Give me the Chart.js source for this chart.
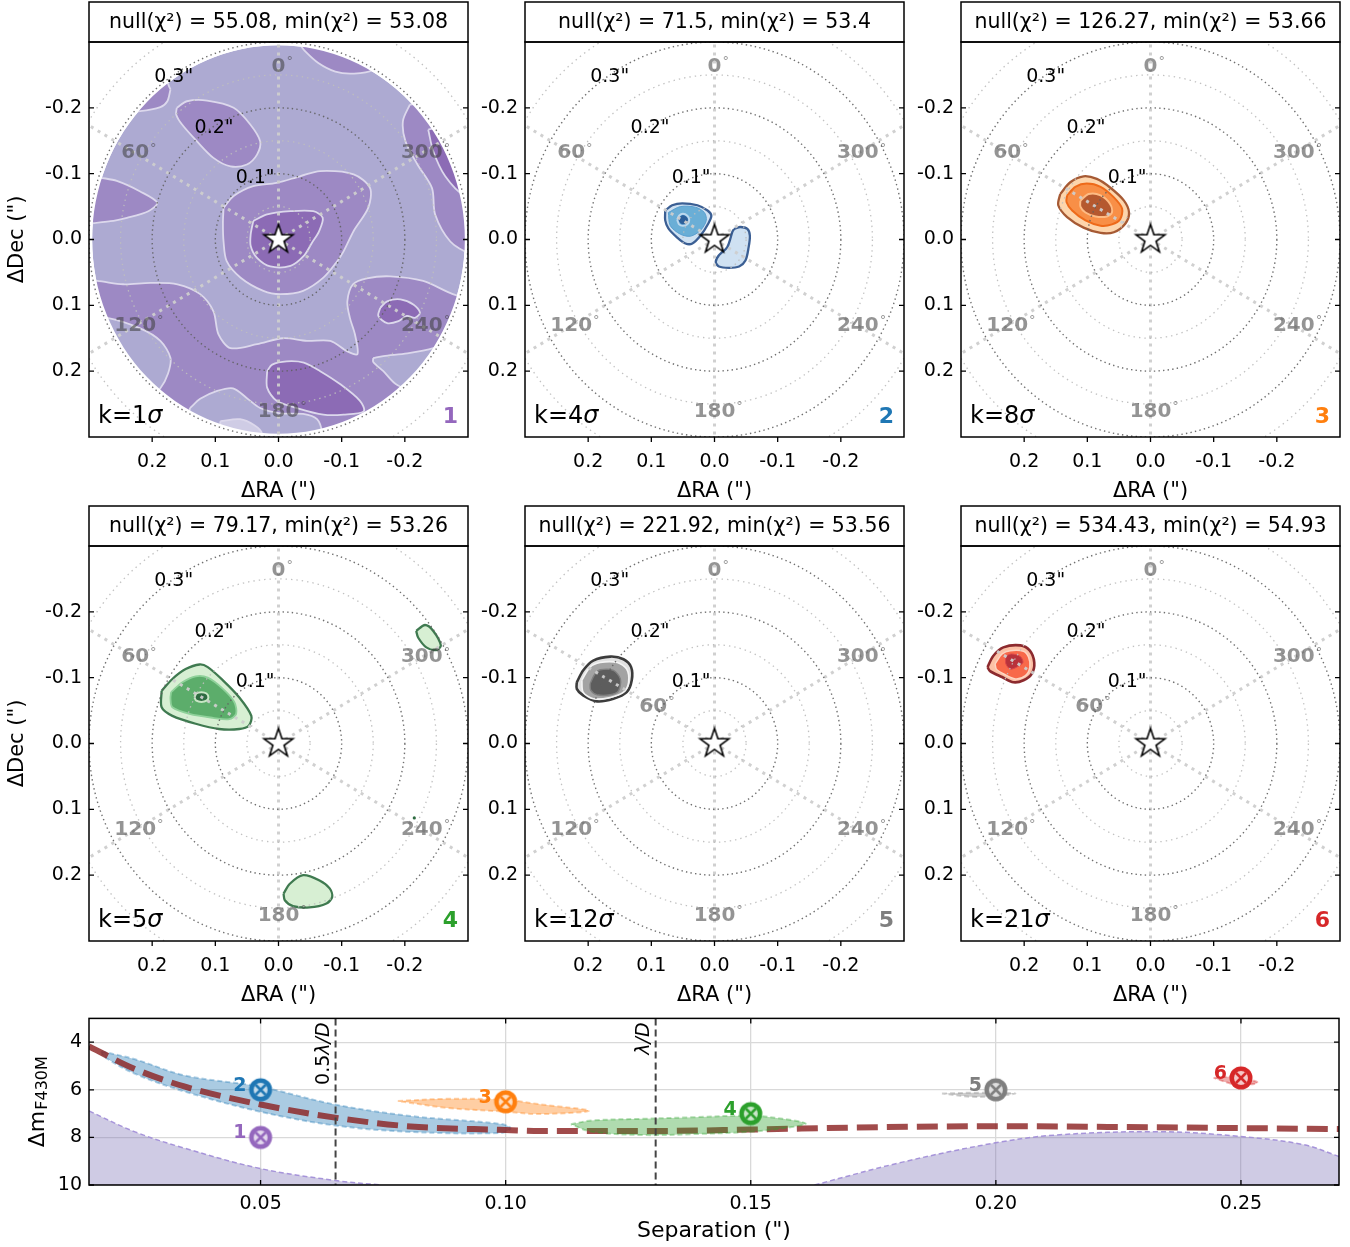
<!DOCTYPE html>
<html>
<head>
<meta charset="utf-8">
<script src="https://cdn.jsdelivr.net/npm/chart.js@4.4.1/dist/chart.umd.min.js"></script>
<style>
  body { margin: 0; background: #fff; }
  #wrap { position: relative; width: 1350px; height: 1247px; overflow: hidden; }
  #wrap canvas { position: absolute; }
</style>
</head>
<body>
<div id="wrap"></div>
<script>
// ---------- map panels ----------
const panelNull = [55.08, 71.5, 126.27, 79.17, 221.92, 534.43];
const panelMin = [53.08, 53.4, 53.66, 53.26, 53.56, 54.93];
const panelK = [1, 4, 8, 5, 12, 21];
const panelColors = ['#9467bd', '#1f77b4', '#ff7f0e', '#2ca02c', '#7f7f7f', '#d62728'];

const raTicks = [0.2, 0.1, 0.0, -0.1, -0.2];
const decTicks = [-0.2, -0.1, 0.0, 0.1, 0.2];
const sepRings = [0.1, 0.2, 0.3];
const minorRings = [0.05, 0.15, 0.25, 0.35];
const spokeAngles = [0, 60, 120, 180, 240, 300];
const ringLabelPos = [[0.037, -0.094], [0.102, -0.170], [0.166, -0.246]]; // (RA, Dec) of 0.1", 0.2", 0.3"
const fovRadius = 0.295;

// contour outlines, [RA, Dec] in arcsec
// panel 1 (k=1 sigma)
const p1NorthEast = [[-0.034,-0.296],[-0.042,-0.286],[-0.063,-0.268],[-0.090,-0.255],[-0.117,-0.252],[-0.148,-0.257],[-0.169,-0.286],[-0.169,-0.33],[-0.034,-0.33]];
const p1NorthWest = [[0.161,-0.200],[0.145,-0.210],[0.113,-0.211],[0.071,-0.200],[0.045,-0.175],[0.029,-0.149],[0.034,-0.129],[0.050,-0.114],[0.076,-0.111],[0.103,-0.124],[0.129,-0.149],[0.153,-0.175],[0.162,-0.190]];
const p1EdgeNW = [[0.171,-0.228],[0.176,-0.210],[0.187,-0.201],[0.219,-0.195],[0.250,-0.195],[0.250,-0.240],[0.187,-0.255]];
const p1West = [[0.282,-0.094],[0.256,-0.089],[0.219,-0.073],[0.192,-0.056],[0.206,-0.043],[0.240,-0.033],[0.266,-0.028],[0.314,-0.028],[0.314,-0.094]];
const p1East = [[-0.208,-0.205],[-0.197,-0.180],[-0.201,-0.149],[-0.220,-0.114],[-0.243,-0.078],[-0.248,-0.038],[-0.272,0.003],[-0.303,0.021],[-0.335,0.021],[-0.335,-0.21]];
const p1EastEdge = [[-0.237,-0.167],[-0.245,-0.134],[-0.264,-0.096],[-0.295,-0.066],[-0.319,-0.066],[-0.319,-0.180]];
const p1Center = [[0.087,-0.048],[0.071,-0.066],[0.040,-0.081],[0.003,-0.086],[-0.034,-0.096],[-0.066,-0.104],[-0.119,-0.099],[-0.145,-0.078],[-0.142,-0.048],[-0.119,-0.013],[-0.103,0.018],[-0.093,0.033],[-0.071,0.058],[-0.039,0.078],[-0.003,0.083],[0.024,0.078],[0.060,0.058],[0.082,0.033],[0.087,0.003],[0.088,-0.025]];
const p1Core = [[0.040,-0.028],[0.018,-0.038],[-0.019,-0.043],[-0.055,-0.043],[-0.070,-0.033],[-0.064,-0.012],[-0.053,0.005],[-0.040,0.025],[-0.019,0.040],[0.013,0.041],[0.034,0.028],[0.044,0.010],[0.044,-0.008]];
const p1South = [[0.314,0.063],[0.287,0.063],[0.246,0.068],[0.203,0.066],[0.160,0.068],[0.124,0.083],[0.103,0.109],[0.095,0.144],[0.076,0.165],[0.034,0.159],[-0.007,0.150],[-0.045,0.154],[-0.082,0.154],[-0.109,0.170],[-0.125,0.174],[-0.121,0.144],[-0.113,0.119],[-0.109,0.094],[-0.118,0.068],[-0.140,0.059],[-0.177,0.056],[-0.229,0.063],[-0.276,0.083],[-0.319,0.094],[-0.335,0.094],[-0.335,0.336],[0.314,0.336]];
const p1SouthWestLow = [[0.314,0.118],[0.271,0.119],[0.219,0.135],[0.187,0.154],[0.171,0.180],[0.175,0.204],[0.187,0.226],[0.203,0.238],[0.314,0.238]];
const p1SouthEastLow = [[-0.150,0.180],[-0.166,0.177],[-0.204,0.173],[-0.245,0.165],[-0.267,0.154],[-0.280,0.144],[-0.319,0.124],[-0.319,0.276],[-0.188,0.221],[-0.166,0.200],[-0.150,0.186]];
const p1BottomLow = [[0.140,0.256],[0.124,0.242],[0.097,0.230],[0.072,0.226],[0.050,0.241],[0.029,0.256],[-0.003,0.264],[-0.039,0.265],[-0.061,0.273],[-0.069,0.294],[-0.069,0.336],[0.156,0.336]];
const p1SouthPeak = [[0.018,0.200],[0.010,0.190],[-0.013,0.185],[-0.040,0.187],[-0.066,0.200],[-0.098,0.220],[-0.129,0.245],[-0.135,0.261],[-0.103,0.266],[-0.071,0.266],[-0.029,0.256],[0.003,0.245],[0.018,0.225]];
const p1EastPeak = [[-0.161,0.104],[-0.172,0.094],[-0.193,0.091],[-0.214,0.099],[-0.224,0.111],[-0.216,0.119],[-0.203,0.116],[-0.190,0.124],[-0.172,0.127],[-0.158,0.116]];
const p1BottomMin = [[0.092,0.276],[0.061,0.273],[0.037,0.283],[0.026,0.295],[0.026,0.321],[0.092,0.321]];

// panel 2 (k=4 sigma)
const p2Main = [[0.078,-0.044],[0.067,-0.052],[0.051,-0.055],[0.027,-0.052],[0.011,-0.044],[0.005,-0.036],[0.010,-0.024],[0.022,-0.006],[0.035,0.006],[0.046,0.006],[0.059,-0.003],[0.073,-0.017],[0.078,-0.029]];
const p2Mid = [[0.073,-0.041],[0.054,-0.050],[0.030,-0.049],[0.016,-0.041],[0.013,-0.029],[0.022,-0.014],[0.038,-0.005],[0.054,-0.008],[0.070,-0.021]];
const p2Ring = [[0.059,-0.030],[0.056,-0.036],[0.050,-0.039],[0.043,-0.036],[0.040,-0.030],[0.043,-0.023],[0.050,-0.021],[0.056,-0.023]];
const p2Peak = [[0.056,-0.030],[0.054,-0.034],[0.050,-0.036],[0.045,-0.034],[0.043,-0.030],[0.045,-0.026],[0.050,-0.024],[0.054,-0.026]];
const p2Second = [[-0.031,-0.016],[-0.041,-0.019],[-0.052,-0.016],[-0.056,-0.006],[-0.054,0.012],[-0.049,0.032],[-0.039,0.041],[-0.023,0.043],[-0.007,0.041],[-0.002,0.034],[-0.007,0.024],[-0.020,0.012],[-0.025,-0.001],[-0.028,-0.011]];

// panel 3 (k=8 sigma)
const p3Main = [[0.143,-0.069],[0.127,-0.087],[0.106,-0.096],[0.085,-0.092],[0.064,-0.079],[0.042,-0.059],[0.034,-0.041],[0.040,-0.024],[0.058,-0.011],[0.079,-0.010],[0.106,-0.018],[0.132,-0.034],[0.146,-0.052]];
const p3Mid = [[0.132,-0.067],[0.119,-0.080],[0.101,-0.085],[0.079,-0.080],[0.058,-0.064],[0.045,-0.047],[0.048,-0.031],[0.061,-0.023],[0.079,-0.021],[0.103,-0.029],[0.124,-0.044],[0.133,-0.057]];
const p3Peak = [[0.111,-0.059],[0.098,-0.069],[0.079,-0.067],[0.064,-0.054],[0.061,-0.041],[0.069,-0.035],[0.087,-0.035],[0.103,-0.041],[0.111,-0.050]];

// panel 4 (k=5 sigma)
const p4Main = [[0.185,-0.080],[0.168,-0.098],[0.147,-0.113],[0.125,-0.120],[0.112,-0.116],[0.088,-0.096],[0.062,-0.070],[0.043,-0.042],[0.047,-0.027],[0.062,-0.022],[0.094,-0.022],[0.131,-0.030],[0.168,-0.042],[0.185,-0.055]];
const p4Mid = [[0.170,-0.078],[0.152,-0.093],[0.131,-0.102],[0.112,-0.100],[0.088,-0.083],[0.070,-0.063],[0.067,-0.045],[0.078,-0.037],[0.104,-0.039],[0.141,-0.045],[0.168,-0.055],[0.171,-0.068]];
const p4Peak = [[0.133,-0.070],[0.130,-0.076],[0.122,-0.078],[0.114,-0.076],[0.111,-0.070],[0.114,-0.065],[0.122,-0.063],[0.130,-0.065]];
const p4Upper = [[-0.218,-0.171],[-0.232,-0.180],[-0.245,-0.171],[-0.257,-0.149],[-0.250,-0.142],[-0.234,-0.146],[-0.221,-0.161]];
const p4Lower = [[-0.008,0.228],[-0.018,0.213],[-0.039,0.200],[-0.065,0.208],[-0.081,0.220],[-0.085,0.233],[-0.076,0.243],[-0.049,0.249],[-0.023,0.247],[-0.010,0.238]];
const p4Speck = [[-0.215, 0.113]];

// panel 5 (k=12 sigma)
const p5Main = [[0.218,-0.093],[0.208,-0.111],[0.192,-0.126],[0.165,-0.132],[0.144,-0.128],[0.132,-0.116],[0.131,-0.096],[0.139,-0.078],[0.160,-0.068],[0.186,-0.064],[0.208,-0.073],[0.218,-0.083]];
const p5Mid = [[0.210,-0.096],[0.197,-0.116],[0.181,-0.123],[0.154,-0.123],[0.139,-0.113],[0.136,-0.093],[0.144,-0.078],[0.165,-0.070],[0.192,-0.068],[0.208,-0.078]];
const p5Peak = [[0.197,-0.091],[0.189,-0.106],[0.181,-0.112],[0.160,-0.111],[0.149,-0.098],[0.152,-0.080],[0.165,-0.074],[0.186,-0.074],[0.196,-0.081]];

// panel 6 (k=21 sigma)
const p6Main = [[0.258,-0.116],[0.249,-0.133],[0.233,-0.146],[0.206,-0.149],[0.191,-0.141],[0.184,-0.123],[0.188,-0.106],[0.201,-0.096],[0.217,-0.093],[0.235,-0.101],[0.254,-0.110]];
const p6Mid = [[0.246,-0.121],[0.235,-0.136],[0.222,-0.141],[0.201,-0.140],[0.193,-0.131],[0.191,-0.116],[0.198,-0.103],[0.214,-0.098],[0.233,-0.106],[0.244,-0.113]];
const p6Peak = [[0.229,-0.133],[0.220,-0.136],[0.206,-0.132],[0.202,-0.123],[0.212,-0.116],[0.222,-0.113],[0.229,-0.121]];

// ---------- contrast panel ----------
const sepTicks = [0.05, 0.10, 0.15, 0.20, 0.25];
const dmTicks = [4, 6, 8, 10];
const halfLambdaD = 0.0653;
const lambdaD = 0.1306;

const contrastSep = [0.015, 0.0244, 0.0346, 0.05, 0.0652, 0.0806, 0.0988, 0.107, 0.1306, 0.15, 0.1702, 0.1996, 0.2228, 0.25, 0.27];
const contrastDm = [4.18, 5.13, 5.87, 6.62, 7.17, 7.54, 7.68, 7.73, 7.73, 7.67, 7.59, 7.53, 7.56, 7.61, 7.65];

const purpleLeftSep = [0.015, 0.0244, 0.0346, 0.05, 0.0652, 0.0745];
const purpleLeftDm = [6.89, 7.77, 8.46, 9.31, 9.81, 10.0];
const purpleRightSep = [0.163, 0.1807, 0.1996, 0.2122, 0.2334, 0.25, 0.2627, 0.27];
const purpleRightDm = [10.0, 9.05, 8.24, 7.90, 7.76, 7.96, 8.30, 8.80];

const blueUpSep = [0.0175, 0.0244, 0.0346, 0.0499, 0.0652, 0.0806, 0.0992, 0.101];
const blueUpDm = [4.38, 4.72, 5.40, 5.87, 6.62, 7.10, 7.44, 7.62];
const blueLoSep = [0.0179, 0.0244, 0.0346, 0.0499, 0.0652, 0.0806, 0.0992];
const blueLoDm = [4.58, 5.33, 6.08, 6.92, 7.50, 7.77, 7.81];

const orangeUpSep = [0.078, 0.088, 0.10, 0.107, 0.117];
const orangeUpDm = [6.47, 6.38, 6.42, 6.61, 6.88];
const orangeLoSep = [0.088, 0.10, 0.107];
const orangeLoDm = [6.76, 6.92, 7.02];

const greenUpSep = [0.1133, 0.1175, 0.128, 0.1386, 0.15, 0.1565, 0.1612];
const greenUpDm = [7.45, 7.29, 7.22, 7.15, 7.09, 7.22, 7.42];
const greenLoSep = [0.1175, 0.128, 0.1386, 0.15, 0.1575];
const greenLoDm = [7.76, 7.90, 7.86, 7.76, 7.59];

const grayUpSep = [0.189, 0.196, 0.204];
const grayUpDm = [6.16, 6.12, 6.16];
const grayLoSep = [0.196];
const grayLoDm = [6.30];

const redUpSep = [0.2444, 0.249, 0.2534];
const redUpDm = [5.50, 5.45, 5.70];
const redLoSep = [0.249];
const redLoDm = [5.78];

const candSep = [0.05, 0.05, 0.10, 0.15, 0.20, 0.25];
const candDm = [8.0, 6.0, 6.5, 7.0, 6.0, 5.5];
const candLabels = ['1', '2', '3', '4', '5', '6'];

// ---------- helpers ----------
const FONT = "'DejaVu Sans', sans-serif";
Chart.defaults.font.family = FONT;
Chart.defaults.color = '#000';
const wrap = document.getElementById('wrap');

function closedShape(pts) {
  const d = pts.map(p => ({ x: p[0], y: p[1] }));
  d.push({ x: pts[0][0], y: pts[0][1] });
  return d;
}

function contour(pts, fillColor, lineColor, width, order) {
  return {
    label: 'contour', data: closedShape(pts), showLine: true, fill: 'shape',
    backgroundColor: fillColor, borderColor: lineColor, borderWidth: width,
    pointRadius: 0, tension: 0.3, order: order
  };
}

function makeStar() {
  const c = document.createElement('canvas');
  c.width = c.height = 36;
  const g = c.getContext('2d');
  g.beginPath();
  for (let i = 0; i < 10; i++) {
    const r = i % 2 ? 5.9 : 15.2;
    const t = -Math.PI / 2 + i * Math.PI / 5;
    g.lineTo(18 + r * Math.cos(t), 18 + r * Math.sin(t));
  }
  g.closePath();
  g.fillStyle = '#fff'; g.fill();
  g.lineWidth = 1.6; g.strokeStyle = '#000'; g.lineJoin = 'miter'; g.stroke();
  return c;
}

function makeOtimes(color) {
  const c = document.createElement('canvas');
  c.width = c.height = 26;
  const g = c.getContext('2d');
  g.fillStyle = color;
  g.beginPath(); g.arc(13, 13, 11.5, 0, Math.PI * 2); g.fill();
  g.fillStyle = 'rgba(255,255,255,0.75)';
  g.beginPath(); g.arc(13, 13, 7, 0, Math.PI * 2); g.fill();
  g.strokeStyle = color; g.lineWidth = 2.6;
  g.beginPath();
  g.moveTo(8, 8); g.lineTo(18, 18); g.moveTo(18, 8); g.lineTo(8, 18);
  g.stroke();
  return c;
}

function ellipseFor(chart, r) {
  const sx = chart.scales.x, sy = chart.scales.y;
  const cx = sx.getPixelForValue(0), cy = sy.getPixelForValue(0);
  return { cx, cy, rx: Math.abs(sx.getPixelForValue(r) - cx), ry: Math.abs(sy.getPixelForValue(r) - cy) };
}

function drawPolarGrid(chart, o) {
  const ctx = chart.ctx;
  const sx = chart.scales.x, sy = chart.scales.y;
  const c0 = ellipseFor(chart, 0);
  ctx.lineCap = 'butt';

  // radial spokes
  ctx.strokeStyle = 'rgba(205,205,205,0.95)';
  ctx.lineWidth = 3;
  ctx.setLineDash([3, 5]);
  spokeAngles.forEach(deg => {
    const t = deg * Math.PI / 180;
    ctx.beginPath();
    ctx.moveTo(c0.cx, c0.cy);
    ctx.lineTo(sx.getPixelForValue(0.5 * Math.sin(t)), sy.getPixelForValue(-0.5 * Math.cos(t)));
    ctx.stroke();
  });

  // minor rings
  ctx.strokeStyle = 'rgba(190,190,190,0.95)';
  ctx.lineWidth = 1.3;
  ctx.setLineDash([1.4, 4]);
  minorRings.forEach(r => {
    const e = ellipseFor(chart, r);
    ctx.beginPath(); ctx.ellipse(e.cx, e.cy, e.rx, e.ry, 0, 0, Math.PI * 2); ctx.stroke();
  });

  // separation rings
  ctx.strokeStyle = 'rgba(95,95,95,0.9)';
  ctx.lineWidth = 1.4;
  ctx.setLineDash([1.4, 3.2]);
  sepRings.forEach(r => {
    const e = ellipseFor(chart, r);
    ctx.beginPath(); ctx.ellipse(e.cx, e.cy, e.rx, e.ry, 0, 0, Math.PI * 2); ctx.stroke();
  });
  ctx.setLineDash([]);

  // position-angle labels
  ctx.textBaseline = 'middle';
  spokeAngles.forEach(deg => {
    const t = deg * Math.PI / 180;
    const r = (deg === 60 && o.sixtyR) ? o.sixtyR : 0.262;
    const px = sx.getPixelForValue(r * Math.sin(t));
    const py = sy.getPixelForValue(-r * Math.cos(t));
    ctx.font = 'bold 20px ' + FONT;
    ctx.fillStyle = 'rgba(60,60,60,0.55)';
    ctx.textAlign = 'center';
    const txt = String(deg);
    const w = ctx.measureText(txt).width;
    ctx.fillText(txt, px, py);
    ctx.font = '13px ' + FONT;
    ctx.textAlign = 'left';
    ctx.fillText('°', px + w / 2 + 1, py - 5);
  });

  // separation labels
  ctx.font = '19px ' + FONT;
  ctx.fillStyle = '#000';
  ctx.textAlign = 'center';
  sepRings.forEach((r, i) => {
    const p = ringLabelPos[i];
    ctx.fillText(r.toFixed(1) + '"', sx.getPixelForValue(p[0]), sy.getPixelForValue(p[1]));
  });
}

const polarOverlay = {
  id: 'polarOverlay',
  beforeDatasetsDraw(chart, args, o) {
    if (!o.diskColor) return;
    const ctx = chart.ctx;
    const e = ellipseFor(chart, fovRadius);
    ctx.save();
    ctx.fillStyle = o.diskColor;
    ctx.beginPath(); ctx.ellipse(e.cx, e.cy, e.rx, e.ry, 0, 0, Math.PI * 2); ctx.fill();
    ctx.restore();
  },
  beforeDatasetDraw(chart, args, o) {
    if (chart.data.datasets[args.index].label !== 'star') return;
    const ctx = chart.ctx, a = chart.chartArea;
    ctx.save();
    ctx.beginPath(); ctx.rect(a.left, a.top, a.width, a.height); ctx.clip();
    if (o.diskColor) {
      // blank everything outside the field of view
      const e = ellipseFor(chart, fovRadius);
      ctx.beginPath();
      ctx.rect(a.left - 2, a.top - 2, a.width + 4, a.height + 4);
      ctx.ellipse(e.cx, e.cy, e.rx, e.ry, 0, 0, Math.PI * 2);
      ctx.fillStyle = '#fff';
      ctx.fill('evenodd');
    }
    drawPolarGrid(chart, o);
    ctx.restore();
  },
  afterDraw(chart, args, o) {
    const ctx = chart.ctx, a = chart.chartArea;
    const sx = chart.scales.x, sy = chart.scales.y;
    ctx.save();
    ctx.strokeStyle = '#000';
    ctx.lineWidth = 1.5;
    ctx.strokeRect(a.left, a.top, a.width, a.height);
    ctx.strokeRect(a.left, 2, a.width, a.top - 2);

    ctx.lineWidth = 1.3;
    ctx.beginPath();
    raTicks.forEach(v => {
      const px = sx.getPixelForValue(v);
      ctx.moveTo(px, a.bottom); ctx.lineTo(px, a.bottom + 5);
    });
    decTicks.forEach(v => {
      const py = sy.getPixelForValue(v);
      ctx.moveTo(a.left, py); ctx.lineTo(a.left + 5, py);
      ctx.moveTo(a.right - 5, py); ctx.lineTo(a.right, py);
    });
    ctx.stroke();

    ctx.fillStyle = '#000';
    ctx.textBaseline = 'middle';
    ctx.textAlign = 'center';
    ctx.font = '20.5px ' + FONT;
    ctx.fillText('null(χ²) = ' + o.nullChi + ', min(χ²) = ' + o.minChi, a.left + a.width / 2, (a.top + 2) / 2 + 1);

    ctx.font = '21px ' + FONT;
    ctx.fillText('ΔRA (")', a.left + a.width / 2, a.bottom + 55);
    if (o.yTitle) {
      ctx.save();
      ctx.translate(18, a.top + a.height / 2);
      ctx.rotate(-Math.PI / 2);
      ctx.fillText('ΔDec (")', 0, 0);
      ctx.restore();
    }

    ctx.textBaseline = 'alphabetic';
    ctx.textAlign = 'left';
    ctx.font = '24px ' + FONT;
    const kTxt = 'k=' + o.k;
    ctx.fillText(kTxt, a.left + 9, a.bottom - 14);
    const kw = ctx.measureText(kTxt).width;
    ctx.font = 'italic 24px ' + FONT;
    ctx.fillText('σ', a.left + 9 + kw, a.bottom - 14);

    ctx.font = 'bold 22px ' + FONT;
    ctx.textAlign = 'right';
    ctx.fillStyle = o.numColor;
    ctx.fillText(o.num, a.right - 10, a.bottom - 14);
    ctx.restore();
  }
};

const panelLayers = [
  [
    [p1NorthEast, '#9d89c4'], [p1NorthWest, '#9d89c4'], [p1EdgeNW, '#9d89c4'], [p1West, '#9d89c4'],
    [p1East, '#9d89c4'], [p1EastEdge, '#8c6bb5'], [p1Center, '#9d89c4'], [p1Core, '#8c6bb5'],
    [p1South, '#9d89c4'], [p1SouthWestLow, '#adaad2'], [p1SouthEastLow, '#adaad2'], [p1BottomLow, '#adaad2'],
    [p1SouthPeak, '#8c6bb5'], [p1EastPeak, '#8c6bb5'], [p1BottomMin, '#cfcce5']
  ].map(l => [l[0], l[1], '#dcd8ec', 1.8]),
  [
    [p2Second, '#cfe1f2', '#3b5f94', 2.3], [p2Main, '#cfe1f2', '#3b5f94', 2.3],
    [p2Mid, '#6aaed6', '#5a9fd0', 1], [p2Ring, '#4a8fc6', '#bcd8ee', 2], [p2Peak, '#2d5f9a', '#2d5f9a', 1]
  ],
  [
    [p3Main, '#fdd5ac', '#a65a34', 2.3], [p3Mid, '#f88f47', '#ee6a1a', 2],
    [p3Peak, '#b5592f', '#fdbb84', 2]
  ],
  [
    [p4Upper, '#d7efd3', '#3f7a50', 2.3], [p4Lower, '#d7efd3', '#3f7a50', 2.3],
    [p4Main, '#d7efd3', '#3f7a50', 2.3], [p4Mid, '#5cad6b', '#8fd19a', 1.8],
    [p4Peak, '#2e6b41', '#c8e6c5', 2]
  ],
  [
    [p5Main, '#e2e2e2', '#3c3c3c', 2.6], [p5Mid, '#a3a3a3', '#f4f4f4', 1.6],
    [p5Peak, '#5d5d5d', '#808080', 1.4]
  ],
  [
    [p6Main, '#fcc1a6', '#8c2a2e', 2.6], [p6Mid, '#f8694a', '#fdd5c2', 1.5],
    [p6Peak, '#b8323b', '#d9454a', 1]
  ]
];

const starIcon = makeStar();
const colLeft = [89, 525, 961];

function makePanel(idx) {
  const col = idx % 3, row = Math.floor(idx / 3);
  const canvas = document.createElement('canvas');
  canvas.width = 480; canvas.height = 500;
  canvas.style.left = (colLeft[col] - 89) + 'px';
  canvas.style.top = (row * 504) + 'px';
  wrap.appendChild(canvas);

  const datasets = panelLayers[idx].map((l, i) => contour(l[0], l[1], l[2], l[3], -i));
  if (idx === 3) {
    datasets.push({ label: 'speck', data: p4Speck.map(p => ({ x: p[0], y: p[1] })), pointRadius: 1.6,
      pointBackgroundColor: '#2e6b41', pointBorderWidth: 0, order: -50 });
  }
  datasets.push({ label: 'star', data: [{ x: 0, y: 0 }], pointStyle: starIcon, pointRadius: 15, order: -1000 });

  new Chart(canvas, {
    type: 'scatter',
    data: { datasets },
    options: {
      responsive: false, animation: false, events: [], devicePixelRatio: 1,
      layout: { autoPadding: false, padding: { left: 0, right: 12, top: 42, bottom: 0 } },
      plugins: {
        legend: { display: false }, tooltip: { enabled: false },
        polarOverlay: {
          nullChi: panelNull[idx], minChi: panelMin[idx], k: panelK[idx],
          num: String(idx + 1), numColor: panelColors[idx],
          diskColor: idx === 0 ? '#adaad2' : null,
          sixtyR: idx >= 4 ? 0.112 : null,
          yTitle: col === 0
        }
      },
      scales: {
        x: {
          type: 'linear', min: -0.3, max: 0.3, reverse: true,
          afterBuildTicks: s => { s.ticks = raTicks.map(v => ({ value: v })); },
          afterFit: s => { s.height = 63; },
          grid: { display: false, drawTicks: false }, border: { display: false },
          ticks: { autoSkip: false, maxRotation: 0, padding: 14, color: '#000', font: { size: 19 },
            callback: v => Number(v).toFixed(1) }
        },
        y: {
          type: 'linear', min: -0.3, max: 0.3, reverse: true,
          afterBuildTicks: s => { s.ticks = decTicks.map(v => ({ value: v })); },
          afterFit: s => { s.width = 89; },
          grid: { display: false, drawTicks: false }, border: { display: false },
          ticks: { autoSkip: false, padding: 7, color: '#000', font: { size: 19 },
            callback: v => Number(v).toFixed(1) }
        }
      }
    },
    plugins: [polarOverlay]
  });
}

for (let i = 0; i < 6; i++) makePanel(i);

// ---------- bottom: contrast vs separation ----------
function pairs(xs, ys) { return xs.map((x, i) => ({ x: x, y: ys[i] })); }
function bandShape(upS, upD, loS, loD) {
  const pts = upS.map((s, i) => [s, upD[i]]);
  for (let i = loS.length - 1; i >= 0; i--) pts.push([loS[i], loD[i]]);
  return closedShape(pts);
}
function bandSet(shape, rgb, order) {
  return {
    label: 'band', data: shape, showLine: true, fill: 'shape', pointRadius: 0, tension: 0.35,
    backgroundColor: 'rgba(' + rgb + ',0.38)', borderColor: 'rgba(' + rgb + ',0.35)',
    borderWidth: 2, borderDash: [5, 3], order: order
  };
}

const contrastPlugin = {
  id: 'contrastDeco',
  afterDraw(chart) {
    const ctx = chart.ctx, a = chart.chartArea;
    const sx = chart.scales.x, sy = chart.scales.y;
    ctx.save();
    ctx.strokeStyle = '#000';
    ctx.lineWidth = 1.5;
    ctx.strokeRect(a.left, a.top, a.width, a.height);
    ctx.lineWidth = 1.3;
    ctx.beginPath();
    sepTicks.forEach(v => {
      const px = sx.getPixelForValue(v);
      ctx.moveTo(px, a.bottom); ctx.lineTo(px, a.bottom - 5);
      ctx.moveTo(px, a.top); ctx.lineTo(px, a.top + 5);
    });
    dmTicks.forEach(v => {
      const py = sy.getPixelForValue(v);
      ctx.moveTo(a.left, py); ctx.lineTo(a.left + 5, py);
      ctx.moveTo(a.right - 5, py); ctx.lineTo(a.right, py);
    });
    ctx.stroke();

    // lambda/D labels
    ctx.fillStyle = '#000';
    ctx.textBaseline = 'alphabetic';
    ctx.textAlign = 'left';
    [[halfLambdaD, '0.5'], [lambdaD, '']].forEach(d => {
      const px = sx.getPixelForValue(d[0]);
      ctx.save();
      ctx.translate(px - 7, a.top + 4);
      ctx.rotate(-Math.PI / 2);
      ctx.font = '19px ' + FONT;
      const w1 = ctx.measureText(d[1]).width;
      ctx.font = 'italic 19px ' + FONT;
      const w2 = ctx.measureText('λ/D').width;
      ctx.font = '19px ' + FONT;
      ctx.fillText(d[1], -(w1 + w2), 0);
      ctx.font = 'italic 19px ' + FONT;
      ctx.fillText('λ/D', -w2, 0);
      ctx.restore();
    });

    // candidate numbers
    const meta = chart.getDatasetMeta(chart.data.datasets.findIndex(d => d.label === 'candidates'));
    ctx.font = 'bold 19px ' + FONT;
    ctx.textAlign = 'right';
    meta.data.forEach((pt, i) => {
      ctx.fillStyle = panelColors[i];
      ctx.fillText(candLabels[i], pt.x - 14, pt.y + 1);
    });

    // axis titles
    ctx.fillStyle = '#000';
    ctx.textAlign = 'center';
    ctx.textBaseline = 'middle';
    ctx.font = '22px ' + FONT;
    ctx.fillText('Separation (")', a.left + a.width / 2, a.bottom + 46);

    ctx.save();
    ctx.translate(44, a.top + a.height / 2);
    ctx.rotate(-Math.PI / 2);
    ctx.textBaseline = 'alphabetic';
    ctx.textAlign = 'left';
    ctx.font = '22px ' + FONT;
    const wm = ctx.measureText('Δm').width;
    ctx.font = '16px ' + FONT;
    const ws = ctx.measureText('F430M').width;
    const x0 = -(wm + ws + 1) / 2;
    ctx.font = '22px ' + FONT;
    ctx.fillText('Δm', x0, 0);
    ctx.font = '16px ' + FONT;
    ctx.fillText('F430M', x0 + wm + 1, 3);
    ctx.restore();
    ctx.restore();
  }
};

(function makeContrast() {
  const canvas = document.createElement('canvas');
  canvas.width = 1350; canvas.height = 247;
  canvas.style.left = '0px';
  canvas.style.top = '1000px';
  wrap.appendChild(canvas);

  const candIcons = panelColors.map(makeOtimes);
  const datasets = [
    { label: 'purpleL', data: pairs(purpleLeftSep, purpleLeftDm), showLine: true, fill: { value: 10 },
      backgroundColor: 'rgba(117,107,177,0.35)', borderColor: 'rgba(160,140,215,0.9)', borderWidth: 1.5,
      borderDash: [5, 3], pointRadius: 0, tension: 0.35, order: 0 },
    { label: 'purpleR', data: pairs(purpleRightSep, purpleRightDm), showLine: true, fill: { value: 10 },
      backgroundColor: 'rgba(117,107,177,0.35)', borderColor: 'rgba(160,140,215,0.9)', borderWidth: 1.5,
      borderDash: [5, 3], pointRadius: 0, tension: 0.35, order: -1 },
    bandSet(bandShape(blueUpSep, blueUpDm, blueLoSep, blueLoDm), '31,119,180', -2),
    bandSet(bandShape(orangeUpSep, orangeUpDm, orangeLoSep, orangeLoDm), '255,127,14', -3),
    bandSet(bandShape(grayUpSep, grayUpDm, grayLoSep, grayLoDm), '127,127,127', -4),
    bandSet(bandShape(redUpSep, redUpDm, redLoSep, redLoDm), '214,39,40', -5),
    { label: 'contrast', data: pairs(contrastSep, contrastDm), showLine: true, fill: false,
      borderColor: 'rgba(140,35,35,0.82)', borderWidth: 6, borderDash: [21, 9], pointRadius: 0,
      cubicInterpolationMode: 'monotone', order: -6 },
    bandSet(bandShape(greenUpSep, greenUpDm, greenLoSep, greenLoDm), '44,160,44', -7),
    { label: 'halfLD', data: [{ x: halfLambdaD, y: 3 }, { x: halfLambdaD, y: 10 }], showLine: true,
      borderColor: '#444', borderWidth: 2, borderDash: [7, 4], pointRadius: 0, order: -8 },
    { label: 'LD', data: [{ x: lambdaD, y: 3 }, { x: lambdaD, y: 10 }], showLine: true,
      borderColor: '#444', borderWidth: 2, borderDash: [7, 4], pointRadius: 0, order: -9 },
    { label: 'candidates', data: pairs(candSep, candDm), pointStyle: candIcons, pointRadius: 12, order: -10 }
  ];

  new Chart(canvas, {
    type: 'scatter',
    data: { datasets },
    options: {
      responsive: false, animation: false, events: [], devicePixelRatio: 1,
      layout: { autoPadding: false, padding: { left: 0, right: 11, top: 10, bottom: 0 } },
      plugins: { legend: { display: false }, tooltip: { enabled: false } },
      scales: {
        x: {
          type: 'linear', min: 0.015, max: 0.27,
          afterBuildTicks: s => { s.ticks = sepTicks.map(v => ({ value: v })); },
          afterFit: s => { s.height = 62; },
          grid: { color: '#d9d9d9', lineWidth: 1.3, drawTicks: false }, border: { display: false },
          ticks: { autoSkip: false, maxRotation: 0, padding: 8, color: '#000', font: { size: 19 },
            callback: v => Number(v).toFixed(2) }
        },
        y: {
          type: 'linear', min: 3, max: 10, reverse: true,
          afterBuildTicks: s => { s.ticks = dmTicks.map(v => ({ value: v })); },
          afterFit: s => { s.width = 89; },
          grid: { color: '#d9d9d9', lineWidth: 1.3, drawTicks: false }, border: { display: false },
          ticks: { autoSkip: false, padding: 7, color: '#000', font: { size: 19 },
            callback: v => String(v) }
        }
      }
    },
    plugins: [contrastPlugin]
  });
})();
</script>
</body>
</html>
